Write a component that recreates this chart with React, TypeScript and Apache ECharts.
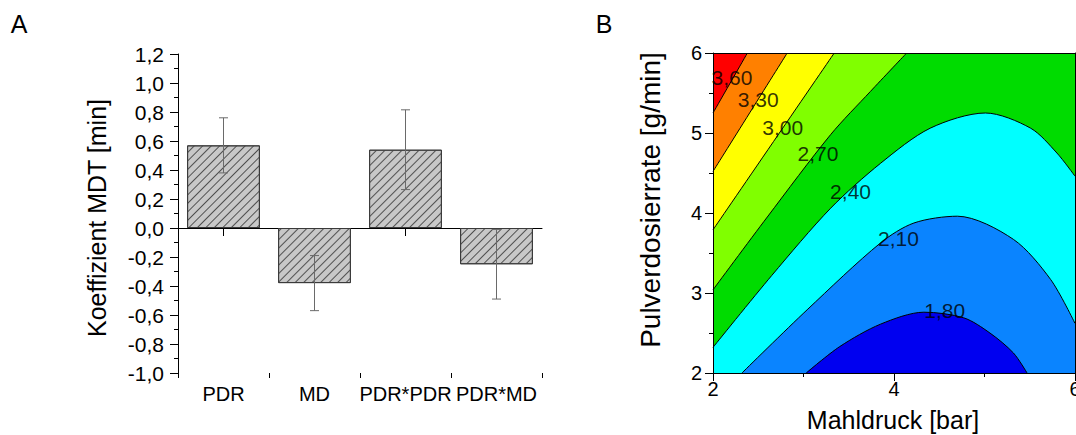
import React, { useEffect, useRef } from 'react';
import * as echarts from 'echarts';

// ---------- Panel A data ----------
const coefCategories = ['PDR', 'MD', 'PDR*PDR', 'PDR*MD'];
const coefValues = [0.57, -0.38, 0.54, -0.25];
const coefErrors = [0.19, 0.19, 0.275, 0.24];
const coefAxis = { min: -1.0, max: 1.2, interval: 0.2 };

// ---------- Panel B data ----------
const mdAxis = { min: 2, max: 6, interval: 2 }; // Mahldruck [bar]
const pdrAxis = { min: 2, max: 6, interval: 1 }; // Pulverdosierrate [g/min]
const contourLevels = [3.6, 3.3, 3.0, 2.7, 2.4, 2.1, 1.8];
// contour lines: [Mahldruck, Pulverdosierrate]
const line360 = [[2, 5.25], [2.38, 6]];
const line330 = [[2, 4.52], [2.82, 6]];
const line300 = [[2, 3.79], [3.34, 6]];
const line270 = [[2, 3.04], [2.6, 3.95], [3.3, 4.98], [3.74, 5.52], [4.14, 6]];
const line240 = [[2, 2.32], [2.65, 3.22], [3.3, 4.06], [3.85, 4.62], [4.4, 5.06], [5.01, 5.25], [5.51, 5.06], [5.8, 4.75], [6, 4.46]];
const line210 = [[2.32, 2], [3.04, 2.79], [3.85, 3.625], [4.22, 3.875], [4.7, 3.96], [5.32, 3.67], [5.73, 3.17], [6, 2.62]];
const line180 = [[3.03, 2], [3.4, 2.33], [3.85, 2.61], [4.33, 2.76], [4.77, 2.69], [5.06, 2.5], [5.32, 2.25], [5.47, 2]];
const contourLines = [line360, line330, line300, line270, line240, line210, line180];
// label anchor positions for each level
const contourLabelPos = [[2.21, 5.69], [2.5, 5.42], [2.77, 5.07], [3.16, 4.75], [3.52, 4.27], [4.05, 3.68], [4.56, 2.78]];
// band colours from highest (>3.6) to lowest (<1.8)
const bandColors = ['#ff0000', '#ff8000', '#ffff00', '#80ff00', '#00dc00', '#00ffff', '#0a84ff', '#0000f0'];

const FONT = '"Liberation Sans", Arial, Helvetica, sans-serif';
const fmtComma = (v: number, d: number) => (Math.abs(v) < 1e-9 ? 0 : v).toFixed(d).replace('.', ',');

export default function App() {
  const ref = useRef<HTMLDivElement>(null);

  useEffect(() => {
    const chart = echarts.init(ref.current!, null, { renderer: 'svg' });
    const black = { color: '#000', width: 1 };

    // contour series: diagonal lines fill upward (higher band), arches fill downward (lower band)
    const contourSeries: any[] = contourLines.map((pts, i) => {
      const upward = contourLevels[i] > 2.55;
      return {
        type: 'line',
        xAxisIndex: 3,
        yAxisIndex: 1,
        data: pts,
        smooth: 0.3,
        symbol: 'none',
        silent: true,
        clip: true,
        z: upward ? 10 - i : 10 + i,
        lineStyle: { color: '#000', width: 1 },
        areaStyle: { color: upward ? bandColors[i] : bandColors[i + 1], opacity: 1, origin: upward ? 'end' : 'start' },
      };
    });

    const option: any = {
      animation: false,
      textStyle: { fontFamily: FONT },
      grid: [
        { left: 178, top: 54, width: 364, height: 319, containLabel: false, outerBoundsMode: 'none' },
        { left: 713, top: 53, width: 362, height: 320, containLabel: false, outerBoundsMode: 'none', show: true, backgroundColor: bandColors[4], borderWidth: 0 },
      ],
      xAxis: [
        {
          gridIndex: 0, type: 'category', data: coefCategories, position: 'bottom',
          axisLine: { show: false, onZero: false }, axisTick: { show: false }, splitLine: { show: false },
          axisLabel: { interval: 0, fontSize: 20, color: '#000', margin: 11, fontFamily: FONT },
        },
        {
          gridIndex: 0, type: 'category', data: coefCategories, position: 'bottom',
          axisLine: { show: true, onZero: true, lineStyle: black },
          axisTick: { show: true, alignWithLabel: true, length: 8, lineStyle: black },
          axisLabel: { show: false }, splitLine: { show: false },
        },
        {
          gridIndex: 0, type: 'category', data: coefCategories, position: 'bottom',
          axisLine: { show: false, onZero: true },
          axisTick: { show: true, length: 5, lineStyle: black },
          axisLabel: { show: false }, splitLine: { show: false },
        },
        {
          gridIndex: 1, type: 'value', min: mdAxis.min, max: mdAxis.max, interval: mdAxis.interval, position: 'bottom', z: 30,
          axisLine: { show: true, onZero: false, lineStyle: black },
          axisTick: { show: true, length: 8, lineStyle: black },
          minorTick: { show: true, splitNumber: 2, length: 4, lineStyle: black },
          axisLabel: { fontSize: 20, color: '#000', margin: 6, fontFamily: FONT },
          splitLine: { show: false },
        },
        {
          gridIndex: 1, type: 'value', min: mdAxis.min, max: mdAxis.max, position: 'top', z: 30,
          axisLine: { show: true, onZero: false, lineStyle: black },
          axisTick: { show: false }, axisLabel: { show: false }, splitLine: { show: false },
        },
      ],
      yAxis: [
        {
          gridIndex: 0, type: 'value', min: coefAxis.min, max: coefAxis.max, interval: coefAxis.interval,
          axisLine: { show: true, onZero: false, lineStyle: black },
          axisTick: { show: true, length: 8, lineStyle: black },
          minorTick: { show: true, splitNumber: 2, length: 4, lineStyle: black },
          axisLabel: { fontSize: 21, color: '#000', margin: 14, fontFamily: FONT, formatter: (v: number) => fmtComma(v, 1) },
          splitLine: { show: false },
        },
        {
          gridIndex: 1, type: 'value', min: pdrAxis.min, max: pdrAxis.max, interval: pdrAxis.interval, z: 30,
          axisLine: { show: true, onZero: false, lineStyle: black },
          axisTick: { show: true, length: 8, lineStyle: black },
          minorTick: { show: true, splitNumber: 2, length: 4, lineStyle: black },
          axisLabel: { fontSize: 20, color: '#000', margin: 11, fontFamily: FONT },
          splitLine: { show: false },
        },
        {
          gridIndex: 1, type: 'value', min: pdrAxis.min, max: pdrAxis.max, position: 'right', z: 30,
          axisLine: { show: true, onZero: false, lineStyle: black },
          axisTick: { show: false }, axisLabel: { show: false }, splitLine: { show: false },
        },
      ],
      series: [
        {
          type: 'bar', xAxisIndex: 0, yAxisIndex: 0, data: coefValues, barWidth: '80%', silent: true,
          itemStyle: {
            color: '#c8c8c8', borderColor: '#3a3a3a', borderWidth: 1,
            decal: { symbol: 'rect', symbolSize: 1, color: '#505050', dashArrayX: [1, 0], dashArrayY: [1, 5], rotation: -Math.PI / 4 },
          },
        },
        {
          type: 'custom', xAxisIndex: 0, yAxisIndex: 0, silent: true, z: 5,
          data: coefValues.map((v, i) => [i, v - coefErrors[i], v + coefErrors[i]]),
          encode: { x: 0, y: [1, 2] },
          renderItem: (params: any, api: any) => {
            const c = api.value(0);
            const lo = api.coord([c, api.value(1)]);
            const hi = api.coord([c, api.value(2)]);
            const w = 4.5;
            const st = { stroke: '#6a6a6a', lineWidth: 1 };
            return {
              type: 'group',
              children: [
                { type: 'line', shape: { x1: lo[0], y1: lo[1], x2: hi[0], y2: hi[1] }, style: st },
                { type: 'line', shape: { x1: lo[0] - w, y1: lo[1], x2: lo[0] + w, y2: lo[1] }, style: st },
                { type: 'line', shape: { x1: hi[0] - w, y1: hi[1], x2: hi[0] + w, y2: hi[1] }, style: st },
              ],
            };
          },
        },
        ...contourSeries,
        {
          type: 'scatter', xAxisIndex: 3, yAxisIndex: 1, silent: true, z: 40, symbolSize: 0,
          data: contourLabelPos.map((p) => [p[0], p[1]]),
          label: {
            show: true, position: 'inside', color: '#000', fontSize: 21, fontFamily: FONT,
            formatter: (p: any) => fmtComma(contourLevels[p.dataIndex], 2),
          },
        },
      ],
      graphic: [
        { type: 'text', x: 19, y: 24, style: { text: 'A', fontSize: 25, fontFamily: FONT, fill: '#000', align: 'center', verticalAlign: 'middle' } },
        { type: 'text', x: 604, y: 24, style: { text: 'B', fontSize: 25, fontFamily: FONT, fill: '#000', align: 'center', verticalAlign: 'middle' } },
        { type: 'text', x: 97, y: 218, rotation: Math.PI / 2, style: { text: 'Koeffizient MDT [min]', fontSize: 25, fontFamily: FONT, fill: '#000', align: 'center', verticalAlign: 'middle' } },
        { type: 'text', x: 650, y: 200, rotation: Math.PI / 2, style: { text: 'Pulverdosierrate [g/min]', fontSize: 28, fontFamily: FONT, fill: '#000', align: 'center', verticalAlign: 'middle' } },
        { type: 'text', x: 893, y: 420, style: { text: 'Mahldruck [bar]', fontSize: 25, fontFamily: FONT, fill: '#000', align: 'center', verticalAlign: 'middle' } },
      ],
    };

    chart.setOption(option);
    return () => chart.dispose();
  }, []);

  return <div ref={ref} style={{ position: 'absolute', left: 0, top: 0, width: 1076, height: 435 }} />;
}
